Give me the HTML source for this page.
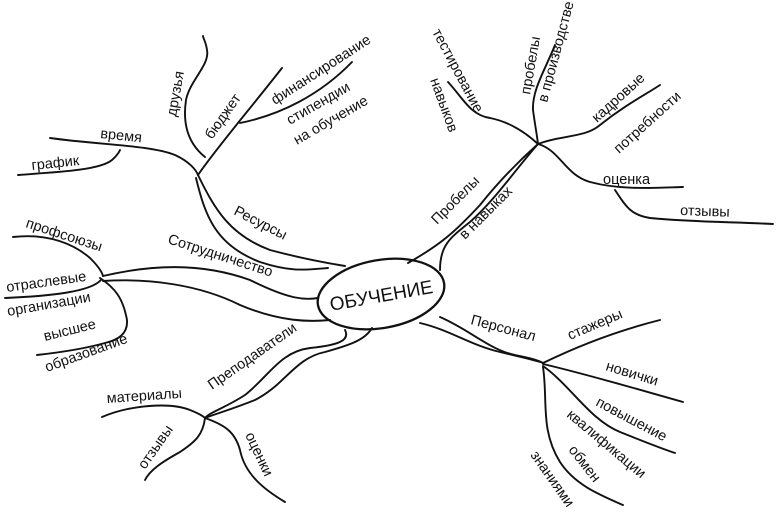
<!DOCTYPE html>
<html><head><meta charset="utf-8"><style>
html,body{margin:0;padding:0;background:#fff;}
svg{display:block;}
text{font-family:"Liberation Sans",sans-serif;font-size:14.5px;fill:#111;}
</style></head><body>
<svg width="779" height="515" viewBox="0 0 779 515" xmlns="http://www.w3.org/2000/svg">
<g fill="none" stroke="#111" stroke-width="1.9" stroke-linecap="round">
<ellipse cx="381" cy="294" rx="64" ry="34" transform="rotate(-10 381 294)" stroke-width="2.3"/>
<path d="M198,175 C215,210 230,235 270,250 C300,258 320,262 345,266"/>
<path d="M196,178 C205,215 215,245 260,262 C290,272 305,270 328,268"/>
<path d="M198,175 C215,150 245,115 282,68"/>
<path d="M240,123 C280,115 320,95 352,62"/>
<path d="M205,157 C190,145 182,127 186,100 C190,80 210,65 207,50 C206,42 203,38 203,36"/>
<path d="M50,138 C100,145 150,145 175,155 C190,162 196,170 198,175"/>
<path d="M18,175 C60,172 100,170 112,160 C118,155 120,150 120,150"/>
<path d="M103,276 C150,265 200,262 250,280 C290,300 305,300 318,298"/>
<path d="M103,281 C150,278 200,285 240,305 C280,322 310,322 330,320"/>
<path d="M13,237 C50,233 75,245 90,258 C98,266 102,272 103,276"/>
<path d="M5,298 C50,296 90,292 101,280"/>
<path d="M100,278 C115,288 123,298 127,320 C128,334 118,340 105,343 C80,350 55,353 37,355"/>
<path d="M345,330 C350,340 340,345 310,348 C280,352 270,375 245,395 C225,408 210,412 205,418"/>
<path d="M372,328 C365,340 350,345 325,352 C295,358 285,385 255,400 C230,410 215,414 205,418"/>
<path d="M102,417 C130,405 170,402 190,410 C200,414 203,416 205,418"/>
<path d="M205,418 C203,435 195,442 180,452 C162,462 150,470 145,480"/>
<path d="M205,418 C225,425 235,432 240,450 C245,475 265,490 285,502"/>
<path d="M408,263 C440,245 455,232 480,205 C500,180 520,160 538,144"/>
<path d="M440,270 C440,245 450,238 470,222 C495,200 515,170 538,144"/>
<path d="M448,82 C463,98 470,115 490,118 C510,122 525,132 538,144"/>
<path d="M555,45 C545,70 532,90 533,110 C535,125 537,135 538,144"/>
<path d="M538,144 C560,135 585,138 600,125 C625,105 645,95 660,85"/>
<path d="M538,144 C560,150 565,175 590,182 C620,190 650,188 683,187"/>
<path d="M615,190 C625,205 630,215 650,218 C690,222 735,222 773,224"/>
<path d="M440,317 C470,330 490,350 515,355 C530,358 538,360 543,363"/>
<path d="M420,323 C450,330 470,345 500,352 C520,357 535,360 543,363"/>
<path d="M543,363 C580,345 620,330 660,320"/>
<path d="M543,364 C590,375 640,390 683,402"/>
<path d="M543,366 C570,385 590,420 620,432 C640,440 660,448 675,453"/>
<path d="M543,367 C548,400 540,430 560,462 C575,485 600,495 623,505"/>
</g>
<g>
<text x="381" y="302" text-anchor="middle" style="font-size:19px" transform="rotate(-10 381 294)">ОБУЧЕНИЕ</text>
<text x="0" y="0" transform="translate(233,214) rotate(27)">Ресурсы</text>
<text x="0" y="0" transform="translate(167,243) rotate(18)">Сотрудничество</text>
<text x="0" y="0" transform="translate(437,225) rotate(-45)">Пробелы</text>
<text x="0" y="0" transform="translate(465,240) rotate(-45)">в навыках</text>
<text x="0" y="0" transform="translate(470,324) rotate(15)">Персонал</text>
<text x="0" y="0" transform="translate(212,390) rotate(-35)">Преподаватели</text>
<text x="0" y="0" transform="translate(176,117) rotate(-80)">друзья</text>
<text x="0" y="0" transform="translate(212,140) rotate(-55)">бюджет</text>
<text x="0" y="0" transform="translate(275,105) rotate(-33)">финансирование</text>
<text x="0" y="0" transform="translate(290,125) rotate(-30)">стипендии</text>
<text x="0" y="0" transform="translate(297,145) rotate(-30)">на обучение</text>
<text x="0" y="0" transform="translate(100,138) rotate(6)">время</text>
<text x="0" y="0" transform="translate(32,170) rotate(-6)">график</text>
<text x="0" y="0" transform="translate(25,227) rotate(18)">профсоюзы</text>
<text x="0" y="0" transform="translate(7,292) rotate(-8)">отраслевые</text>
<text x="0" y="0" transform="translate(8,316) rotate(-10)">организации</text>
<text x="0" y="0" transform="translate(45,341) rotate(-14)">высшее</text>
<text x="0" y="0" transform="translate(47,372) rotate(-20)">образование</text>
<text x="0" y="0" transform="translate(107,403) rotate(-4)">материалы</text>
<text x="0" y="0" transform="translate(145,470) rotate(-55)">отзывы</text>
<text x="0" y="0" transform="translate(245,435) rotate(65)">оценки</text>
<text x="0" y="0" transform="translate(432,32) rotate(62)">тестирование</text>
<text x="0" y="0" transform="translate(430,80) rotate(70)">навыков</text>
<text x="0" y="0" transform="translate(530,95) rotate(-80)">пробелы</text>
<text x="0" y="0" transform="translate(547,103) rotate(-75)">в производстве</text>
<text x="0" y="0" transform="translate(597,123) rotate(-42)">кадровые</text>
<text x="0" y="0" transform="translate(619,154) rotate(-42)">потребности</text>
<text x="0" y="0" transform="translate(603,184) rotate(0)">оценка</text>
<text x="0" y="0" transform="translate(680,215) rotate(2)">отзывы</text>
<text x="0" y="0" transform="translate(570,340) rotate(-23)">стажеры</text>
<text x="0" y="0" transform="translate(605,370) rotate(17)">новички</text>
<text x="0" y="0" transform="translate(595,405) rotate(28)">повышение</text>
<text x="0" y="0" transform="translate(566,416) rotate(40)">квалификации</text>
<text x="0" y="0" transform="translate(568,450) rotate(52)">обмен</text>
<text x="0" y="0" transform="translate(530,455) rotate(55)">знаниями</text>
</g>
</svg>
</body></html>
